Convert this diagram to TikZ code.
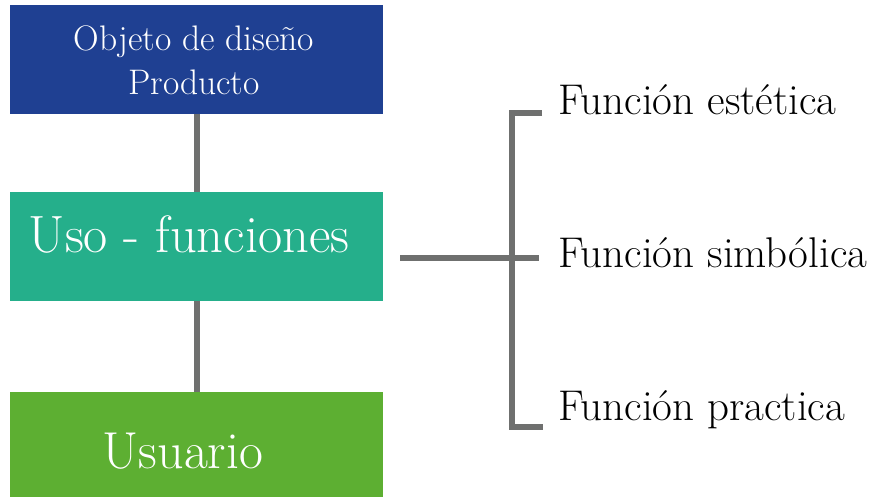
\documentclass[tikz,border=0pt]{standalone}
\begin{document}
\begin{tikzpicture}[x=1pt,y=-1pt,
  box/.style={draw=none,rectangle,inner sep=0pt,minimum width=373pt,anchor=north west},
  boxtext/.style={inner sep=0pt,text=white,anchor=base},
  label/.style={inner sep=0pt,anchor=base west,font=\fontsize{43}{48}\selectfont},
  conn/.style={draw=linegray,line width=6pt}]
\definecolor{topblue}{RGB}{31,64,146}
\definecolor{midteal}{RGB}{37,175,139}
\definecolor{botgreen}{RGB}{93,175,50}
\definecolor{linegray}{RGB}{111,112,111}
\useasboundingbox (0,0) rectangle (877,497);
\fill[white] (0,0) rectangle (877,497);
% boxes
\node[box,fill=topblue,minimum height=109pt] (top) at (10,5) {};
\node[box,fill=midteal,minimum height=109pt] (mid) at (10,192) {};
\node[box,fill=botgreen,minimum height=105pt] (bot) at (10,392) {};
% box texts
\node[boxtext,font=\fontsize{35.5}{45}\selectfont] (t1) at (194,51) {Objeto de diseño};
\node[boxtext,font=\fontsize{35.5}{45}\selectfont] (t2) at (194,95) {Producto};
\node[boxtext,font=\fontsize{52.5}{56}\selectfont] (t3) at (189,252) {Uso - funciones};
\node[boxtext,font=\fontsize{52}{56}\selectfont] (t4) at (183,468) {Usuario};
% vertical connectors
\draw[conn] (top.south) -- (mid.north);
\draw[conn] (mid.south) -- (bot.north);
% bracket
\coordinate (hs) at (400,258);
\coordinate (hj) at (539,258);
\coordinate (bt) at (542,113);
\coordinate (btc) at (512,113);
\coordinate (bbc) at (512,427);
\coordinate (bb) at (543,427);
\draw[conn] (hs) -- (hj);
\draw[conn,line join=miter] (bt) -- (btc) -- (bbc) -- (bb);
% labels
\node[label] (f1) at (558,115) {Función estética};
\node[label] (f2) at (558,267) {Función simbólica};
\node[label] (f3) at (558,420) {Función practica};
\end{tikzpicture}
\end{document}
